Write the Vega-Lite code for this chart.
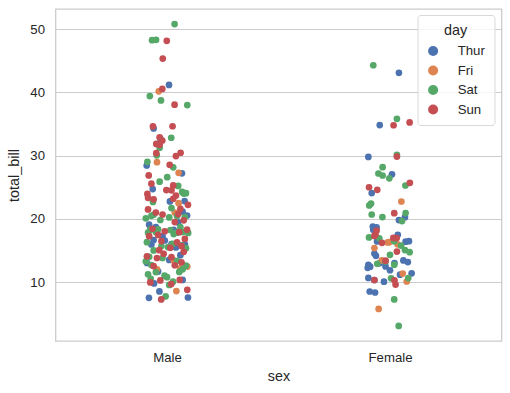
{
"$schema": "https://vega.github.io/schema/vega-lite/v6.json",
"width": 446, "height": 332,
"autosize": {"type": "none"},
"padding": {"left": 55.5, "top": 9, "right": 8.5, "bottom": 52},
"background": "white",
"config": {
  "font": "Liberation Sans",
  "view": {"stroke": "#cccccc", "strokeWidth": 1.3},
  "axis": {"labelFont": "Liberation Sans", "titleFont": "Liberation Sans", "labelColor": "#262626", "titleColor": "#262626", "labelFontSize": 13.2, "titleFontSize": 14.4, "titleFontWeight": "normal", "ticks": false, "domain": false}
},
"data": {"values": [
{"sex":"Male","day":"Thur","total_bill":27.2,"jitter":0.067},
{"sex":"Male","day":"Thur","total_bill":22.76,"jitter":0.013},
{"sex":"Male","day":"Thur","total_bill":17.29,"jitter":-0.02},
{"sex":"Male","day":"Thur","total_bill":19.44,"jitter":0.05},
{"sex":"Male","day":"Thur","total_bill":16.66,"jitter":-0.06},
{"sex":"Male","day":"Thur","total_bill":32.68,"jitter":-0.03},
{"sex":"Male","day":"Thur","total_bill":15.98,"jitter":0.08},
{"sex":"Male","day":"Thur","total_bill":13.03,"jitter":-0.09},
{"sex":"Male","day":"Thur","total_bill":18.28,"jitter":0.03},
{"sex":"Male","day":"Thur","total_bill":24.71,"jitter":-0.064},
{"sex":"Male","day":"Thur","total_bill":21.16,"jitter":0.07},
{"sex":"Male","day":"Thur","total_bill":11.69,"jitter":-0.04},
{"sex":"Male","day":"Thur","total_bill":14.26,"jitter":0.06},
{"sex":"Male","day":"Thur","total_bill":15.95,"jitter":-0.07},
{"sex":"Male","day":"Thur","total_bill":8.52,"jitter":-0.034},
{"sex":"Male","day":"Thur","total_bill":22.82,"jitter":0.079},
{"sex":"Male","day":"Thur","total_bill":19.08,"jitter":-0.08},
{"sex":"Male","day":"Thur","total_bill":16.0,"jitter":0.02},
{"sex":"Male","day":"Thur","total_bill":34.3,"jitter":-0.06},
{"sex":"Male","day":"Thur","total_bill":41.19,"jitter":0.009},
{"sex":"Male","day":"Thur","total_bill":9.78,"jitter":-0.058},
{"sex":"Male","day":"Thur","total_bill":7.51,"jitter":-0.081},
{"sex":"Male","day":"Thur","total_bill":28.44,"jitter":-0.091},
{"sex":"Male","day":"Thur","total_bill":15.48,"jitter":0.04},
{"sex":"Male","day":"Thur","total_bill":16.58,"jitter":-0.01},
{"sex":"Male","day":"Thur","total_bill":7.56,"jitter":0.094},
{"sex":"Male","day":"Thur","total_bill":10.34,"jitter":0.07},
{"sex":"Male","day":"Thur","total_bill":13.51,"jitter":0.01},
{"sex":"Male","day":"Thur","total_bill":18.71,"jitter":-0.05},
{"sex":"Male","day":"Thur","total_bill":20.53,"jitter":0.09},
{"sex":"Male","day":"Fri","total_bill":28.97,"jitter":-0.045},
{"sex":"Male","day":"Fri","total_bill":22.49,"jitter":0.052},
{"sex":"Male","day":"Fri","total_bill":40.17,"jitter":-0.037},
{"sex":"Male","day":"Fri","total_bill":27.28,"jitter":0.052},
{"sex":"Male","day":"Fri","total_bill":12.03,"jitter":-0.045},
{"sex":"Male","day":"Fri","total_bill":21.01,"jitter":0.035},
{"sex":"Male","day":"Fri","total_bill":12.46,"jitter":0.091},
{"sex":"Male","day":"Fri","total_bill":12.16,"jitter":0.06},
{"sex":"Male","day":"Fri","total_bill":8.58,"jitter":0.042},
{"sex":"Male","day":"Fri","total_bill":13.42,"jitter":0.03},
{"sex":"Male","day":"Sat","total_bill":20.65,"jitter":-0.06},
{"sex":"Male","day":"Sat","total_bill":17.92,"jitter":0.07},
{"sex":"Male","day":"Sat","total_bill":39.42,"jitter":-0.077},
{"sex":"Male","day":"Sat","total_bill":19.82,"jitter":-0.03},
{"sex":"Male","day":"Sat","total_bill":17.81,"jitter":-0.085},
{"sex":"Male","day":"Sat","total_bill":13.37,"jitter":0.045},
{"sex":"Male","day":"Sat","total_bill":12.69,"jitter":-0.07},
{"sex":"Male","day":"Sat","total_bill":21.7,"jitter":0.02},
{"sex":"Male","day":"Sat","total_bill":9.55,"jitter":0.01},
{"sex":"Male","day":"Sat","total_bill":18.35,"jitter":-0.04},
{"sex":"Male","day":"Sat","total_bill":17.78,"jitter":0.095},
{"sex":"Male","day":"Sat","total_bill":24.06,"jitter":0.085},
{"sex":"Male","day":"Sat","total_bill":16.31,"jitter":-0.09},
{"sex":"Male","day":"Sat","total_bill":18.69,"jitter":0.06},
{"sex":"Male","day":"Sat","total_bill":31.27,"jitter":-0.033},
{"sex":"Male","day":"Sat","total_bill":16.04,"jitter":0.025},
{"sex":"Male","day":"Sat","total_bill":38.01,"jitter":0.091},
{"sex":"Male","day":"Sat","total_bill":11.24,"jitter":-0.085},
{"sex":"Male","day":"Sat","total_bill":48.27,"jitter":-0.067},
{"sex":"Male","day":"Sat","total_bill":20.29,"jitter":0.08},
{"sex":"Male","day":"Sat","total_bill":13.81,"jitter":-0.02},
{"sex":"Male","day":"Sat","total_bill":11.02,"jitter":-0.011},
{"sex":"Male","day":"Sat","total_bill":18.29,"jitter":-0.075},
{"sex":"Male","day":"Sat","total_bill":17.59,"jitter":0.03},
{"sex":"Male","day":"Sat","total_bill":20.08,"jitter":-0.095},
{"sex":"Male","day":"Sat","total_bill":20.23,"jitter":0.01},
{"sex":"Male","day":"Sat","total_bill":15.01,"jitter":-0.06},
{"sex":"Male","day":"Sat","total_bill":12.02,"jitter":0.07},
{"sex":"Male","day":"Sat","total_bill":10.51,"jitter":-0.073},
{"sex":"Male","day":"Sat","total_bill":17.92,"jitter":-0.05},
{"sex":"Male","day":"Sat","total_bill":15.36,"jitter":0.085},
{"sex":"Male","day":"Sat","total_bill":20.49,"jitter":-0.07},
{"sex":"Male","day":"Sat","total_bill":25.21,"jitter":0.05},
{"sex":"Male","day":"Sat","total_bill":18.24,"jitter":0.015},
{"sex":"Male","day":"Sat","total_bill":14.0,"jitter":-0.08},
{"sex":"Male","day":"Sat","total_bill":50.81,"jitter":0.034},
{"sex":"Male","day":"Sat","total_bill":15.81,"jitter":0.065},
{"sex":"Male","day":"Sat","total_bill":26.59,"jitter":0.001},
{"sex":"Male","day":"Sat","total_bill":38.73,"jitter":-0.027},
{"sex":"Male","day":"Sat","total_bill":24.27,"jitter":0.068},
{"sex":"Male","day":"Sat","total_bill":30.06,"jitter":-0.046},
{"sex":"Male","day":"Sat","total_bill":25.89,"jitter":-0.033},
{"sex":"Male","day":"Sat","total_bill":48.33,"jitter":-0.049},
{"sex":"Male","day":"Sat","total_bill":28.15,"jitter":0.028},
{"sex":"Male","day":"Sat","total_bill":11.59,"jitter":-0.05},
{"sex":"Male","day":"Sat","total_bill":7.74,"jitter":-0.006},
{"sex":"Male","day":"Sat","total_bill":20.45,"jitter":0.045},
{"sex":"Male","day":"Sat","total_bill":13.28,"jitter":-0.095},
{"sex":"Male","day":"Sat","total_bill":24.01,"jitter":0.075},
{"sex":"Male","day":"Sat","total_bill":15.69,"jitter":-0.025},
{"sex":"Male","day":"Sat","total_bill":11.61,"jitter":0.055},
{"sex":"Male","day":"Sat","total_bill":10.77,"jitter":0.0},
{"sex":"Male","day":"Sat","total_bill":15.53,"jitter":0.005},
{"sex":"Male","day":"Sat","total_bill":10.07,"jitter":0.027},
{"sex":"Male","day":"Sat","total_bill":12.6,"jitter":0.085},
{"sex":"Male","day":"Sat","total_bill":32.83,"jitter":0.019},
{"sex":"Male","day":"Sat","total_bill":29.03,"jitter":-0.088},
{"sex":"Male","day":"Sat","total_bill":22.67,"jitter":-0.063},
{"sex":"Male","day":"Sat","total_bill":17.82,"jitter":0.045},
{"sex":"Male","day":"Sun","total_bill":10.34,"jitter":0.057},
{"sex":"Male","day":"Sun","total_bill":21.01,"jitter":-0.05},
{"sex":"Male","day":"Sun","total_bill":23.68,"jitter":0.04},
{"sex":"Male","day":"Sun","total_bill":25.29,"jitter":0.028},
{"sex":"Male","day":"Sun","total_bill":8.77,"jitter":0.091},
{"sex":"Male","day":"Sun","total_bill":26.88,"jitter":-0.082},
{"sex":"Male","day":"Sun","total_bill":15.04,"jitter":-0.035},
{"sex":"Male","day":"Sun","total_bill":14.78,"jitter":0.075},
{"sex":"Male","day":"Sun","total_bill":10.27,"jitter":-0.03},
{"sex":"Male","day":"Sun","total_bill":15.42,"jitter":0.015},
{"sex":"Male","day":"Sun","total_bill":18.43,"jitter":-0.065},
{"sex":"Male","day":"Sun","total_bill":21.58,"jitter":0.06},
{"sex":"Male","day":"Sun","total_bill":16.29,"jitter":0.045},
{"sex":"Male","day":"Sun","total_bill":17.46,"jitter":-0.04},
{"sex":"Male","day":"Sun","total_bill":13.94,"jitter":0.02},
{"sex":"Male","day":"Sun","total_bill":9.68,"jitter":0.019},
{"sex":"Male","day":"Sun","total_bill":30.4,"jitter":-0.048},
{"sex":"Male","day":"Sun","total_bill":18.29,"jitter":0.09},
{"sex":"Male","day":"Sun","total_bill":22.23,"jitter":0.094},
{"sex":"Male","day":"Sun","total_bill":32.4,"jitter":-0.021},
{"sex":"Male","day":"Sun","total_bill":28.55,"jitter":0.012},
{"sex":"Male","day":"Sun","total_bill":18.04,"jitter":-0.01},
{"sex":"Male","day":"Sun","total_bill":12.54,"jitter":-0.06},
{"sex":"Male","day":"Sun","total_bill":9.94,"jitter":-0.075},
{"sex":"Male","day":"Sun","total_bill":25.56,"jitter":-0.07},
{"sex":"Male","day":"Sun","total_bill":19.49,"jitter":0.035},
{"sex":"Male","day":"Sun","total_bill":38.07,"jitter":0.034},
{"sex":"Male","day":"Sun","total_bill":23.95,"jitter":-0.088},
{"sex":"Male","day":"Sun","total_bill":29.93,"jitter":0.04},
{"sex":"Male","day":"Sun","total_bill":14.07,"jitter":-0.09},
{"sex":"Male","day":"Sun","total_bill":13.13,"jitter":0.065},
{"sex":"Male","day":"Sun","total_bill":17.26,"jitter":-0.08},
{"sex":"Male","day":"Sun","total_bill":24.55,"jitter":-0.003},
{"sex":"Male","day":"Sun","total_bill":19.77,"jitter":0.075},
{"sex":"Male","day":"Sun","total_bill":48.17,"jitter":-0.001},
{"sex":"Male","day":"Sun","total_bill":16.49,"jitter":-0.025},
{"sex":"Male","day":"Sun","total_bill":21.5,"jitter":-0.085},
{"sex":"Male","day":"Sun","total_bill":12.66,"jitter":0.035},
{"sex":"Male","day":"Sun","total_bill":13.81,"jitter":-0.045},
{"sex":"Male","day":"Sun","total_bill":24.52,"jitter":0.02},
{"sex":"Male","day":"Sun","total_bill":20.76,"jitter":0.05},
{"sex":"Male","day":"Sun","total_bill":31.71,"jitter":-0.033},
{"sex":"Male","day":"Sun","total_bill":7.25,"jitter":-0.026},
{"sex":"Male","day":"Sun","total_bill":31.85,"jitter":-0.048},
{"sex":"Male","day":"Sun","total_bill":16.82,"jitter":0.08},
{"sex":"Male","day":"Sun","total_bill":32.9,"jitter":-0.033},
{"sex":"Male","day":"Sun","total_bill":17.89,"jitter":0.055},
{"sex":"Male","day":"Sun","total_bill":14.48,"jitter":-0.015},
{"sex":"Male","day":"Sun","total_bill":34.63,"jitter":-0.063},
{"sex":"Male","day":"Sun","total_bill":34.65,"jitter":0.025},
{"sex":"Male","day":"Sun","total_bill":23.33,"jitter":-0.085},
{"sex":"Male","day":"Sun","total_bill":45.35,"jitter":-0.019},
{"sex":"Male","day":"Sun","total_bill":23.17,"jitter":0.028},
{"sex":"Male","day":"Sun","total_bill":40.55,"jitter":-0.021},
{"sex":"Male","day":"Sun","total_bill":20.69,"jitter":-0.02},
{"sex":"Male","day":"Sun","total_bill":30.46,"jitter":0.061},
{"sex":"Male","day":"Sun","total_bill":23.1,"jitter":-0.06},
{"sex":"Male","day":"Sun","total_bill":15.69,"jitter":0.065},
{"sex":"Female","day":"Thur","total_bill":10.07,"jitter":-0.027},
{"sex":"Female","day":"Thur","total_bill":34.83,"jitter":-0.046},
{"sex":"Female","day":"Thur","total_bill":10.65,"jitter":-0.097},
{"sex":"Female","day":"Thur","total_bill":12.43,"jitter":-0.089},
{"sex":"Female","day":"Thur","total_bill":24.08,"jitter":-0.082},
{"sex":"Female","day":"Thur","total_bill":13.42,"jitter":0.06},
{"sex":"Female","day":"Thur","total_bill":12.48,"jitter":-0.02},
{"sex":"Female","day":"Thur","total_bill":29.8,"jitter":-0.097},
{"sex":"Female","day":"Thur","total_bill":14.52,"jitter":-0.07},
{"sex":"Female","day":"Thur","total_bill":11.38,"jitter":0.097},
{"sex":"Female","day":"Thur","total_bill":20.27,"jitter":0.067},
{"sex":"Female","day":"Thur","total_bill":11.17,"jitter":0.045},
{"sex":"Female","day":"Thur","total_bill":12.26,"jitter":-0.1},
{"sex":"Female","day":"Thur","total_bill":18.26,"jitter":-0.075},
{"sex":"Female","day":"Thur","total_bill":8.51,"jitter":-0.091},
{"sex":"Female","day":"Thur","total_bill":10.33,"jitter":-0.07},
{"sex":"Female","day":"Thur","total_bill":14.15,"jitter":-0.063},
{"sex":"Female","day":"Thur","total_bill":13.16,"jitter":0.08},
{"sex":"Female","day":"Thur","total_bill":17.47,"jitter":0.035},
{"sex":"Female","day":"Thur","total_bill":27.05,"jitter":0.009},
{"sex":"Female","day":"Thur","total_bill":16.43,"jitter":-0.058},
{"sex":"Female","day":"Thur","total_bill":8.35,"jitter":-0.067},
{"sex":"Female","day":"Thur","total_bill":18.64,"jitter":-0.06},
{"sex":"Female","day":"Thur","total_bill":11.87,"jitter":0.0},
{"sex":"Female","day":"Thur","total_bill":19.81,"jitter":0.04},
{"sex":"Female","day":"Thur","total_bill":43.11,"jitter":0.04},
{"sex":"Female","day":"Thur","total_bill":13.0,"jitter":-0.045},
{"sex":"Female","day":"Thur","total_bill":12.74,"jitter":-0.097},
{"sex":"Female","day":"Thur","total_bill":13.0,"jitter":0.02},
{"sex":"Female","day":"Thur","total_bill":16.4,"jitter":0.07},
{"sex":"Female","day":"Thur","total_bill":16.47,"jitter":0.085},
{"sex":"Female","day":"Thur","total_bill":18.78,"jitter":-0.077},
{"sex":"Female","day":"Fri","total_bill":5.75,"jitter":-0.051},
{"sex":"Female","day":"Fri","total_bill":16.32,"jitter":-0.003},
{"sex":"Female","day":"Fri","total_bill":22.75,"jitter":0.051},
{"sex":"Female","day":"Fri","total_bill":11.35,"jitter":0.057},
{"sex":"Female","day":"Fri","total_bill":15.38,"jitter":-0.07},
{"sex":"Female","day":"Fri","total_bill":13.42,"jitter":-0.037},
{"sex":"Female","day":"Fri","total_bill":15.98,"jitter":0.034},
{"sex":"Female","day":"Fri","total_bill":16.27,"jitter":-0.01},
{"sex":"Female","day":"Fri","total_bill":10.09,"jitter":0.075},
{"sex":"Female","day":"Sat","total_bill":20.29,"jitter":-0.034},
{"sex":"Female","day":"Sat","total_bill":15.77,"jitter":0.05},
{"sex":"Female","day":"Sat","total_bill":19.65,"jitter":0.054},
{"sex":"Female","day":"Sat","total_bill":15.06,"jitter":0.067},
{"sex":"Female","day":"Sat","total_bill":20.69,"jitter":-0.082},
{"sex":"Female","day":"Sat","total_bill":16.93,"jitter":-0.048},
{"sex":"Female","day":"Sat","total_bill":26.41,"jitter":-0.003},
{"sex":"Female","day":"Sat","total_bill":16.45,"jitter":0.019},
{"sex":"Female","day":"Sat","total_bill":3.07,"jitter":0.039},
{"sex":"Female","day":"Sat","total_bill":17.07,"jitter":-0.094},
{"sex":"Female","day":"Sat","total_bill":26.86,"jitter":-0.033},
{"sex":"Female","day":"Sat","total_bill":25.28,"jitter":0.069},
{"sex":"Female","day":"Sat","total_bill":14.73,"jitter":0.088},
{"sex":"Female","day":"Sat","total_bill":44.3,"jitter":-0.075},
{"sex":"Female","day":"Sat","total_bill":22.42,"jitter":-0.085},
{"sex":"Female","day":"Sat","total_bill":20.92,"jitter":0.07},
{"sex":"Female","day":"Sat","total_bill":14.31,"jitter":0.0},
{"sex":"Female","day":"Sat","total_bill":7.25,"jitter":0.019},
{"sex":"Female","day":"Sat","total_bill":10.59,"jitter":0.005},
{"sex":"Female","day":"Sat","total_bill":10.63,"jitter":0.082},
{"sex":"Female","day":"Sat","total_bill":12.76,"jitter":0.019},
{"sex":"Female","day":"Sat","total_bill":13.27,"jitter":-0.02},
{"sex":"Female","day":"Sat","total_bill":28.17,"jitter":-0.033},
{"sex":"Female","day":"Sat","total_bill":12.9,"jitter":-0.057},
{"sex":"Female","day":"Sat","total_bill":30.14,"jitter":0.031},
{"sex":"Female","day":"Sat","total_bill":22.12,"jitter":-0.093},
{"sex":"Female","day":"Sat","total_bill":35.83,"jitter":0.031},
{"sex":"Female","day":"Sat","total_bill":27.18,"jitter":-0.052},
{"sex":"Female","day":"Sun","total_bill":16.99,"jitter":0.015},
{"sex":"Female","day":"Sun","total_bill":24.59,"jitter":-0.057},
{"sex":"Female","day":"Sun","total_bill":35.26,"jitter":0.088},
{"sex":"Female","day":"Sun","total_bill":14.83,"jitter":0.031},
{"sex":"Female","day":"Sun","total_bill":10.33,"jitter":-0.07},
{"sex":"Female","day":"Sun","total_bill":16.97,"jitter":0.03},
{"sex":"Female","day":"Sun","total_bill":10.29,"jitter":0.02},
{"sex":"Female","day":"Sun","total_bill":34.81,"jitter":0.016},
{"sex":"Female","day":"Sun","total_bill":25.71,"jitter":0.089},
{"sex":"Female","day":"Sun","total_bill":17.31,"jitter":-0.07},
{"sex":"Female","day":"Sun","total_bill":29.85,"jitter":0.031},
{"sex":"Female","day":"Sun","total_bill":25.0,"jitter":-0.094},
{"sex":"Female","day":"Sun","total_bill":13.39,"jitter":-0.02},
{"sex":"Female","day":"Sun","total_bill":16.21,"jitter":-0.036},
{"sex":"Female","day":"Sun","total_bill":17.51,"jitter":-0.065},
{"sex":"Female","day":"Sun","total_bill":9.6,"jitter":0.025},
{"sex":"Female","day":"Sun","total_bill":20.9,"jitter":0.019},
{"sex":"Female","day":"Sun","total_bill":18.15,"jitter":-0.06}
]},
"transform": [{"calculate": "(datum.sex == 'Male' ? 0 : 1) + datum.jitter", "as": "pos"}],
"mark": {"type": "circle", "size": 45, "opacity": 1, "strokeWidth": 0},
"encoding": {
  "x": {"field": "pos", "type": "quantitative", "scale": {"domain": [-0.5, 1.5], "nice": false, "zero": false},
        "axis": {"values": [0, 1], "labelExpr": "datum.value == 0 ? 'Male' : 'Female'", "grid": false, "title": "sex", "labelPadding": 10, "titlePadding": 6}},
  "y": {"field": "total_bill", "type": "quantitative", "scale": {"domain": [0.68, 53.2], "nice": false, "zero": false},
        "axis": {"values": [10, 20, 30, 40, 50], "grid": true, "gridColor": "#cccccc", "gridWidth": 1.1, "title": "total_bill", "labelPadding": 11, "titlePadding": 8}},
  "color": {"field": "day", "type": "nominal",
    "scale": {"domain": ["Thur", "Fri", "Sat", "Sun"], "range": ["#4c72b0", "#dd8452", "#55a868", "#c44e52"]},
    "legend": {"orient": "none", "legendX": 362, "legendY": 6, "title": "day", "titleAnchor": "middle", "titleFontSize": 14.4, "titleFontWeight": "normal", "titleColor": "#262626", "titleFont": "Liberation Sans", "titlePadding": 6,
      "labelFontSize": 13.2, "labelColor": "#262626", "labelFont": "Liberation Sans", "labelOffset": 18, "symbolSize": 100, "symbolType": "circle", "symbolStrokeWidth": 0, "rowPadding": 5.5,
      "fillColor": "rgba(255,255,255,0.8)", "strokeColor": "#d9d9d9", "cornerRadius": 3, "padding": 9}}
}
}
